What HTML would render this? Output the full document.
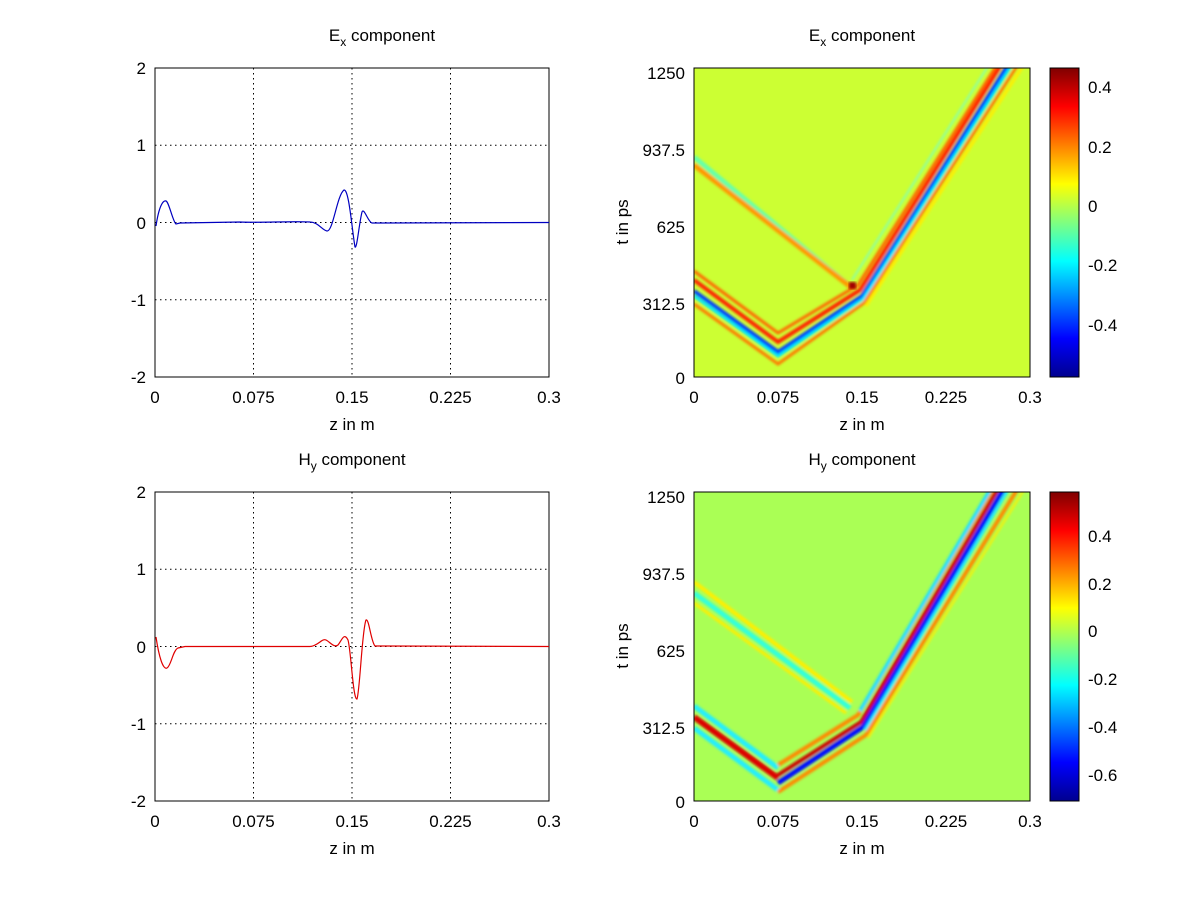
<!DOCTYPE html>
<html><head><meta charset="utf-8"><style>
html,body{margin:0;padding:0;background:#fff;}
svg{display:block;font-family:"Liberation Sans",sans-serif;}
</style></head><body>
<svg width="1201" height="900" viewBox="0 0 1201 900" xmlns="http://www.w3.org/2000/svg">
<defs>
<linearGradient id="jet" x1="0" y1="1" x2="0" y2="0">
<stop offset="0" stop-color="#00008f"/><stop offset="0.125" stop-color="#0000ff"/><stop offset="0.375" stop-color="#00ffff"/><stop offset="0.625" stop-color="#ffff00"/><stop offset="0.875" stop-color="#ff0000"/><stop offset="1" stop-color="#800000"/>
</linearGradient>
<filter id="bl"><feGaussianBlur stdDeviation="1.2"/></filter>
</defs>
<g font-size="17" fill="#000">
<!-- ===== Top-left line plot ===== -->
<rect x="155" y="68" width="394" height="309" fill="#fff" stroke="#000"/>
<g stroke="#000" stroke-dasharray="1.5,3.5" stroke-width="1">
<line x1="253.5" y1="68" x2="253.5" y2="377"/><line x1="352" y1="68" x2="352" y2="377"/><line x1="450.5" y1="68" x2="450.5" y2="377"/>
<line x1="155" y1="145.25" x2="549" y2="145.25"/><line x1="155" y1="222.5" x2="549" y2="222.5"/><line x1="155" y1="299.75" x2="549" y2="299.75"/>
</g>
<path d="M156,226 C159,206 163,200 166,201 C169,202 173,222 176,224 L180,223 L240,222 C260,223 290,221 310,222 C318,222 322,230 327,231 C333,232 337,195 344,190 C349,189 352,230 355,247 C357,249 359,224 362,212 C364,207 368,222 372,223 L549,222.5" fill="none" stroke="#0000c0" stroke-width="1.2"/>
<text x="382" y="41" text-anchor="middle">E<tspan font-size="12" dy="5">x</tspan><tspan dy="-5"> component</tspan></text>
<g text-anchor="end"><text x="146" y="74">2</text><text x="146" y="151">1</text><text x="146" y="229">0</text><text x="146" y="306">-1</text><text x="146" y="383">-2</text></g>
<g text-anchor="middle"><text x="155" y="403">0</text><text x="253.5" y="403">0.075</text><text x="352" y="403">0.15</text><text x="450.5" y="403">0.225</text><text x="549" y="403">0.3</text><text x="352" y="430">z in m</text></g>

<!-- ===== Bottom-left line plot ===== -->
<rect x="155" y="492" width="394" height="309" fill="#fff" stroke="#000"/>
<g stroke="#000" stroke-dasharray="1.5,3.5" stroke-width="1">
<line x1="253.5" y1="492" x2="253.5" y2="801"/><line x1="352" y1="492" x2="352" y2="801"/><line x1="450.5" y1="492" x2="450.5" y2="801"/>
<line x1="155" y1="569.25" x2="549" y2="569.25"/><line x1="155" y1="646.5" x2="549" y2="646.5"/><line x1="155" y1="723.75" x2="549" y2="723.75"/>
</g>
<path d="M156,637 C159,657 163,670 167,668 C171,666 173,650 178,648 L185,646.5 L310,646.5 C318,646 322,638 326,640 C330,642 334,648 338,645 C342,640 344,632 348,640 C351,650 353,700 357,699 C360,690 362,630 366,620 C369,618 371,642 375,646 L549,646.5" fill="none" stroke="#e00000" stroke-width="1.2"/>
<text x="352" y="465" text-anchor="middle">H<tspan font-size="12" dy="5">y</tspan><tspan dy="-5"> component</tspan></text>
<g text-anchor="end"><text x="146" y="498">2</text><text x="146" y="575">1</text><text x="146" y="653">0</text><text x="146" y="730">-1</text><text x="146" y="807">-2</text></g>
<g text-anchor="middle"><text x="155" y="827">0</text><text x="253.5" y="827">0.075</text><text x="352" y="827">0.15</text><text x="450.5" y="827">0.225</text><text x="549" y="827">0.3</text><text x="352" y="854">z in m</text></g>

<!-- ===== Top-right heatmap ===== -->
<svg x="694" y="68" width="336" height="309" viewBox="694 68 336 309" overflow="hidden">
<rect x="694" y="68" width="336" height="309" fill="#ccff33"/>
<g fill="none" stroke-width="5" filter="url(#bl)" stroke-linejoin="miter">
<polyline points="694,157 846,283 " stroke="#66ffaa"/>
<polyline points="694,165 852,288" stroke="#ff9900" stroke-width="5"/>
<polyline points="852,280 992,60" stroke="#88ffaa" stroke-width="2"/>
<polyline points="694,271 778,333 858,285 1000,60" stroke="#ff6600" stroke-width="3"/>
<polyline points="694,280 778,342 860,290 1004,60" stroke="#ff2000" stroke-width="4"/>
<polyline points="694,291 778,352 862,296 1011,60" stroke="#0040ff" stroke-width="4"/>
<polyline points="694,296 778,356 863,299 1015,60" stroke="#00e8ff" stroke-width="3"/>
<polyline points="694,304 778,364 864,303 1021,60" stroke="#ff7700" stroke-width="3"/>
<polyline points="866,306 1027,60" stroke="#ffee00" stroke-width="3"/>
</g>
<rect x="849" y="282" width="7" height="7" fill="#a00000" filter="url(#bl)"/>
</svg>
<rect x="694" y="68" width="336" height="309" fill="none" stroke="#000"/>
<text x="862" y="41" text-anchor="middle">E<tspan font-size="12" dy="5">x</tspan><tspan dy="-5"> component</tspan></text>
<g text-anchor="end"><text x="685" y="79">1250</text><text x="685" y="156">937.5</text><text x="685" y="233">625</text><text x="685" y="310">312.5</text><text x="685" y="384">0</text></g>
<g text-anchor="middle"><text x="694" y="403">0</text><text x="778" y="403">0.075</text><text x="862" y="403">0.15</text><text x="946" y="403">0.225</text><text x="1030" y="403">0.3</text><text x="862" y="430">z in m</text></g>
<text transform="translate(628,222) rotate(-90)" text-anchor="middle">t in ps</text>
<rect x="1050" y="68" width="29" height="309" fill="url(#jet)" stroke="#000"/>
<g><text x="1088" y="93">0.4</text><text x="1088" y="153">0.2</text><text x="1088" y="212">0</text><text x="1088" y="271">-0.2</text><text x="1088" y="331">-0.4</text></g>

<!-- ===== Bottom-right heatmap ===== -->
<svg x="694" y="492" width="336" height="309" viewBox="694 492 336 309" overflow="hidden">
<rect x="694" y="492" width="336" height="309" fill="#aaff55"/>
<g fill="none" stroke-width="5" filter="url(#bl)">
<polyline points="694,582 852,702" stroke="#ffee00" stroke-width="4"/>
<polyline points="694,593 850,708" stroke="#33ffdd" stroke-width="5"/>
<polyline points="694,603 846,713" stroke="#ffee00" stroke-width="3"/>
<polyline points="694,706 778,768" stroke="#22eeff"/>
<polyline points="694,717 778,778" stroke="#dd0000" stroke-width="6"/>
<polyline points="694,728 778,790" stroke="#22eeff"/>
<polyline points="778,765 858,715 995,485" stroke="#ff8800" stroke-width="4"/>
<polyline points="860,711 993,485" stroke="#22ddff" stroke-width="4"/>
<polyline points="778,775 861,722 1000,485" stroke="#cc0000" stroke-width="4"/>
<polyline points="778,783 863,727 1006,485" stroke="#0010ff" stroke-width="5"/>
<polyline points="865,730 1011,485" stroke="#22eeff" stroke-width="3"/>
<polyline points="778,792 866,735 1020,485" stroke="#ff8800" stroke-width="4"/>
<polyline points="868,738 1027,485" stroke="#ffee00" stroke-width="2"/>
</g>
</svg>
<rect x="694" y="492" width="336" height="309" fill="none" stroke="#000"/>
<text x="862" y="465" text-anchor="middle">H<tspan font-size="12" dy="5">y</tspan><tspan dy="-5"> component</tspan></text>
<g text-anchor="end"><text x="685" y="503">1250</text><text x="685" y="580">937.5</text><text x="685" y="657">625</text><text x="685" y="734">312.5</text><text x="685" y="808">0</text></g>
<g text-anchor="middle"><text x="694" y="827">0</text><text x="778" y="827">0.075</text><text x="862" y="827">0.15</text><text x="946" y="827">0.225</text><text x="1030" y="827">0.3</text><text x="862" y="854">z in m</text></g>
<text transform="translate(628,646) rotate(-90)" text-anchor="middle">t in ps</text>
<rect x="1050" y="492" width="29" height="309" fill="url(#jet)" stroke="#000"/>
<g><text x="1088" y="542">0.4</text><text x="1088" y="590">0.2</text><text x="1088" y="637">0</text><text x="1088" y="685">-0.2</text><text x="1088" y="733">-0.4</text><text x="1088" y="781">-0.6</text></g>
</g>
</svg>
</body></html>
